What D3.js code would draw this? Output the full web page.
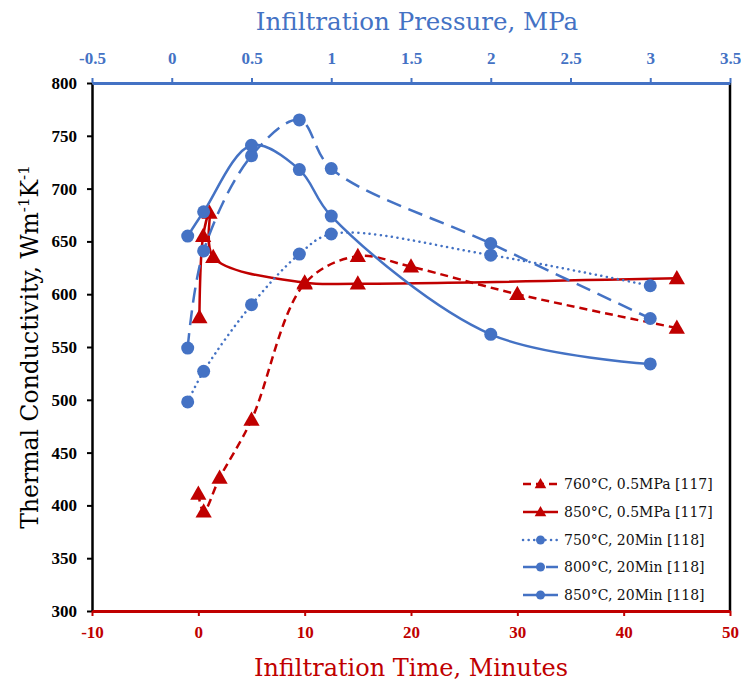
<!DOCTYPE html>
<html>
<head>
<meta charset="utf-8">
<script src="https://cdn.jsdelivr.net/npm/d3@7"></script>
<style>
  html, body { margin: 0; padding: 0; background: #fff; }
  svg { display: block; }
</style>
</head>
<body>
<svg id="chart" width="741" height="682"></svg>
<script>
// ---- Data ----
const timeTicks = [-10, 0, 10, 20, 30, 40, 50];
const pressureTicks = [-0.5, 0, 0.5, 1, 1.5, 2, 2.5, 3, 3.5];
const yTicks = [300, 350, 400, 450, 500, 550, 600, 650, 700, 750, 800];

// Series vs infiltration time (bottom axis)
const time760 = [0, 0.5, 2, 5, 10, 15, 20, 30, 45];
const tc760 = [411, 394, 426, 481, 610, 636, 626, 600, 568];
const time850 = [0.1, 0.45, 1.05, 1.4, 10, 15, 45];
const tc850 = [578, 655, 677, 635, 611, 610, 615];

// Series vs infiltration pressure (top axis)
const pressure = [0.1, 0.2, 0.5, 0.8, 1, 2, 3];
const tc750p = [498, 527, 590, 638, 657, 637, 608];
const tc800p = [549, 641, 731, 765, 719, 648, 577];
const tc850p = [655, 678, 741, 718, 674, 562, 534];

const RED = "#C00000";
const BLUE = "#4472C4";

const legendLabels = ["760°C, 0.5MPa [117]", "850°C, 0.5MPa [117]", "750°C, 20Min [118]", "800°C, 20Min [118]", "850°C, 20Min [118]"];

// ---- Layout ----
const W = 741, H = 682;
const m = { left: 92, right: 11, top: 83, bottom: 71 };
const svg = d3.select("#chart");

const xTime = d3.scaleLinear().domain([-10, 50]).range([m.left, W - m.right]);
const xP = d3.scaleLinear().domain([-0.5, 3.5]).range([m.left, W - m.right]);
const y = d3.scaleLinear().domain([300, 800]).range([H - m.bottom, m.top]);

const tickFont = "'Liberation Serif', 'Times New Roman', serif";
const titleFont = "'DejaVu Serif', serif";
const fmt = d => String(d);

// Left axis
const gL = svg.append("g").attr("transform", `translate(${m.left},0)`)
  .call(d3.axisLeft(y).tickValues(yTicks).tickSize(5).tickSizeOuter(0).tickPadding(10).tickFormat(fmt));
gL.select(".domain").attr("stroke", "#000").attr("stroke-width", 2.5);
gL.selectAll(".tick line").attr("stroke", "#000").attr("stroke-width", 2);
gL.selectAll(".tick text").attr("font-family", tickFont).attr("font-weight", "bold")
  .attr("font-size", 17).attr("fill", "#000");

// Right border
svg.append("line").attr("x1", W - m.right).attr("x2", W - m.right)
  .attr("y1", m.top).attr("y2", H - m.bottom).attr("stroke", "#000").attr("stroke-width", 2.5);

// Bottom axis (time)
const gB = svg.append("g").attr("transform", `translate(0,${H - m.bottom})`)
  .call(d3.axisBottom(xTime).tickValues(timeTicks).tickSize(5).tickSizeOuter(0).tickPadding(10).tickFormat(fmt));
gB.select(".domain").attr("stroke", RED).attr("stroke-width", 3);
gB.selectAll(".tick line").attr("stroke", RED).attr("stroke-width", 2);
gB.selectAll(".tick text").attr("font-family", tickFont).attr("font-weight", "bold")
  .attr("font-size", 17).attr("fill", RED);

// Top axis (pressure)
const gT = svg.append("g").attr("transform", `translate(0,${m.top})`)
  .call(d3.axisTop(xP).tickValues(pressureTicks).tickSize(5).tickSizeOuter(0).tickPadding(14).tickFormat(fmt));
gT.select(".domain").attr("stroke", BLUE).attr("stroke-width", 3);
gT.selectAll(".tick line").attr("stroke", BLUE).attr("stroke-width", 2);
gT.selectAll(".tick text").attr("font-family", tickFont).attr("font-weight", "bold")
  .attr("font-size", 17).attr("fill", BLUE);

// Titles
svg.append("text").attr("x", (m.left + W - m.right) / 2 + 6).attr("y", 30)
  .attr("text-anchor", "middle").attr("font-family", titleFont).attr("font-size", 24.5)
  .attr("fill", BLUE).text("Infiltration Pressure, MPa");
svg.append("text").attr("x", (m.left + W - m.right) / 2).attr("y", 676)
  .attr("text-anchor", "middle").attr("font-family", titleFont).attr("font-size", 24)
  .attr("fill", RED).text("Infiltration Time, Minutes");
const yt = svg.append("text").attr("transform", `translate(38,${(m.top + H - m.bottom) / 2}) rotate(-90)`)
  .attr("text-anchor", "middle").attr("font-family", titleFont).attr("font-size", 23.5).attr("fill", "#000");
yt.append("tspan").text("Thermal Conductivity,  Wm");
yt.append("tspan").attr("dy", -9).attr("font-size", 15).text("-1");
yt.append("tspan").attr("dy", 9).text("K");
yt.append("tspan").attr("dy", -9).attr("font-size", 15).text("-1");

// ---- Series ----
const curve = d3.curveCatmullRom.alpha(0.5);
const series = [
  { xs: time760, ys: tc760, sx: xTime, color: RED, dash: "8,5", cap: "butt", marker: "tri" },
  { xs: time850, ys: tc850, sx: xTime, color: RED, dash: null, cap: "butt", marker: "tri" },
  { xs: pressure, ys: tc750p, sx: xP, color: BLUE, dash: "0.1,5.5", cap: "round", marker: "circle" },
  { xs: pressure, ys: tc800p, sx: xP, color: BLUE, dash: "15,8", cap: "butt", marker: "circle" },
  { xs: pressure, ys: tc850p, sx: xP, color: BLUE, dash: null, cap: "butt", marker: "circle" }
];

const triPath = (s) => `M0,${-s * 0.6}L${s * 0.58},${s * 0.42}L${-s * 0.58},${s * 0.42}Z`;

series.forEach(s => {
  const pts = s.xs.map((v, i) => [s.sx(v), y(s.ys[i])]);
  svg.append("path").datum(pts)
    .attr("d", d3.line().curve(curve))
    .attr("fill", "none").attr("stroke", s.color).attr("stroke-width", 2.5)
    .attr("stroke-dasharray", s.dash).attr("stroke-linecap", s.cap);
});
series.forEach(s => {
  const pts = s.xs.map((v, i) => [s.sx(v), y(s.ys[i])]);
  if (s.marker === "circle") {
    svg.append("g").selectAll("circle").data(pts).join("circle")
      .attr("cx", d => d[0]).attr("cy", d => d[1]).attr("r", 6.5).attr("fill", s.color);
  } else {
    svg.append("g").selectAll("path").data(pts).join("path")
      .attr("transform", d => `translate(${d[0]},${d[1]})`)
      .attr("d", triPath(14)).attr("fill", s.color);
  }
});

// ---- Legend ----
const lg = svg.append("g");
const legRowY = [484, 512, 540, 567, 595];
series.forEach((s, i) => {
  const yy = legRowY[i];
  lg.append("line").attr("x1", 523).attr("x2", 558).attr("y1", yy).attr("y2", yy)
    .attr("stroke", s.color).attr("stroke-width", 2.5)
    .attr("stroke-dasharray", s.dash).attr("stroke-linecap", s.cap);
  if (s.marker === "circle") {
    lg.append("circle").attr("cx", 540.5).attr("cy", yy).attr("r", 4.5).attr("fill", s.color);
  } else {
    lg.append("path").attr("transform", `translate(540.5,${yy})`).attr("d", triPath(10)).attr("fill", s.color);
  }
  lg.append("text").attr("x", 564).attr("y", yy + 5).attr("font-family", titleFont)
    .attr("font-size", 14).attr("fill", "#111").text(legendLabels[i]);
});
</script>
</body>
</html>
